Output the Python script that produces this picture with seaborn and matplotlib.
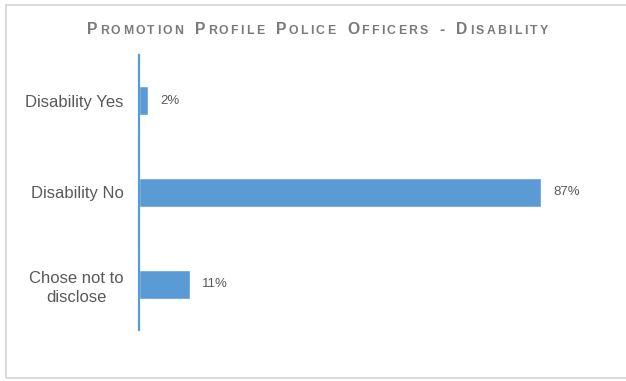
import matplotlib
matplotlib.use("Agg")
import matplotlib.pyplot as plt
import seaborn as sns
import pandas as pd
from matplotlib.patches import Rectangle

categories = ["Disability Yes", "Disability No", "Chose not to\ndisclose"]
values = [2, 87, 11]
value_labels = ["2%", "87%", "11%"]
title_words = ["Promotion", "Profile", "Police", "Officers", "-", "Disability"]

sns.set_style("white")
plt.rcParams["font.family"] = ["Liberation Sans", "DejaVu Sans"]

W, H = 626, 381
fig = plt.figure(figsize=(W / 100, H / 100), dpi=100)
ax = fig.add_axes([139 / W, (H - 330) / H, (601 - 139) / W, (330 - 55) / H])

df = pd.DataFrame({"cat": categories, "val": values})
sns.barplot(data=df, x="val", y="cat", orient="h", color="#5B9BD5",
            width=0.32, ax=ax, saturation=1)

ax.set_xlim(0, 100)
ax.set_ylim(2.5, -0.5)
ax.set_xlabel("")
ax.set_ylabel("")
ax.set_xticks([])
for s in ["top", "right", "bottom"]:
    ax.spines[s].set_visible(False)
ax.spines["left"].set_color("#5B9BD5")
ax.spines["left"].set_linewidth(1.6)
ax.tick_params(axis="y", length=0, pad=11, labelsize=12, labelcolor="#595959")
for lab in ax.get_yticklabels():
    lab.set_multialignment("center")
    lab.set_linespacing(1.4)

for i, (v, t) in enumerate(zip(values, value_labels)):
    ax.annotate(t, xy=(v, i), xytext=(12, 0), textcoords="offset pixels",
                ha="left", va="center", fontsize=9.5, color="#595959")

# frame (open on the right side)
fig.patches.append(Rectangle((6 / W, 3 / H), 1.2, (H - 5 - 3) / H,
                             transform=fig.transFigure, fill=False,
                             edgecolor="#d4d4d4", linewidth=1.2))

# small-caps, letter-spaced title
renderer = fig.canvas.get_renderer()
pieces = []
for wi, w in enumerate(title_words):
    for ci, ch in enumerate(w):
        if ci == 0 or not ch.isalpha():
            pieces.append((ch.upper(), 11.3))
        else:
            pieces.append((ch.upper(), 8.8))
    if wi < len(title_words) - 1:
        pieces.append((" ", None))

tcol = "#7a7a7a"
objs = []
natural = 0.0
space_w = 7.0
for ch, fs in pieces:
    if fs is None:
        objs.append(None)
        natural += space_w
        continue
    t = fig.text(0, 0, ch, fontsize=fs, color=tcol, fontweight="bold",
                 ha="left", va="baseline")
    w = t.get_window_extent(renderer).width
    objs.append((t, w))
    natural += w
x0, x1 = 87.0, 548.0
n_gaps = len(pieces) - 1
gap = (x1 - x0 - natural) / n_gaps
x = x0
baseline = H - 34
for o in objs:
    if o is None:
        x += space_w + gap
        continue
    t, w = o
    t.set_position((x / W, baseline / H))
    x += w + gap

fig.savefig("out.png", dpi=100, facecolor="white")
